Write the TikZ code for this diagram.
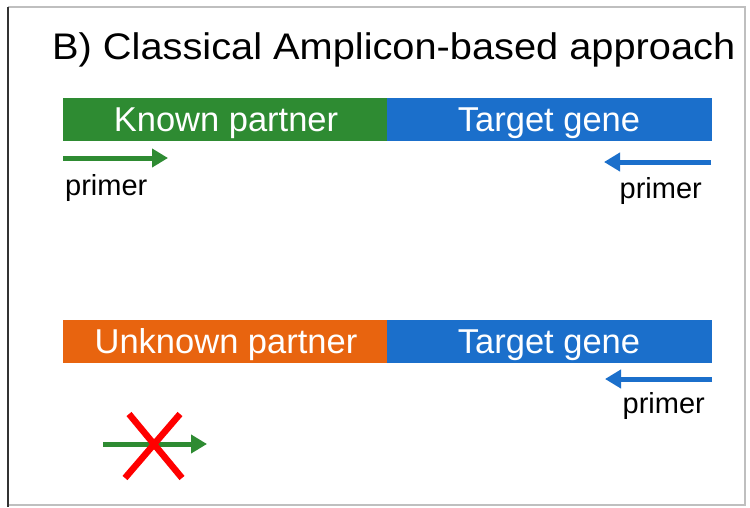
\documentclass[tikz,border=0pt]{standalone}
\usepackage{fontspec}
\setmainfont{Liberation Sans}
\usetikzlibrary{arrows.meta}
\definecolor{pgreen}{HTML}{2E8B32}
\definecolor{pblue}{HTML}{1B6FCB}
\definecolor{porange}{HTML}{E8640F}
\tikzset{
  seg/.style={draw=none, minimum height=43pt, inner sep=0pt},
  segtext/.style={text=white, inner sep=0pt, anchor=base, font=\fontsize{34.5}{34.5}\selectfont},
  prim/.style={line width=5pt, -{Triangle[length=16pt,width=18pt]}},
  lab/.style={font=\fontsize{29}{29}\selectfont, inner sep=0pt},
}
\begin{document}
\begin{tikzpicture}[x=1pt,y=-1pt]
\useasboundingbox (0,0) rectangle (750,507);
\fill[white] (0,0) rectangle (750,507);
\draw[gray!50, line width=1.2pt] (8,7) -- (745,7) -- (745,505) -- (8,505);
\draw[black!80, line width=1.5pt] (8,7) -- (8,507);
\node[anchor=base west, font=\fontsize{37}{37}\selectfont, inner sep=0pt] (title) at (52,59) {\scalebox{1.075}[1]{B) Classical Amplicon-based approach}};
% top bar
\node[seg, fill=pgreen, minimum width=324pt] (kp) at (225,119) {};
\node[seg, fill=pblue, minimum width=325pt, anchor=west] (tg1) at (kp.east) {};
\node[segtext] (kpt) at (226,131.5) {Known partner};
\node[segtext] (tg1t) at (549,131.5) {Target gene};
\coordinate (g1s) at (63,158); \coordinate (g1e) at (168,158);
\draw[prim, pgreen] (g1s) -- (g1e);
\node[lab, anchor=base west] (p1) at (65,195) {primer};
\coordinate (b1s) at (711,162); \coordinate (b1e) at (604,162);
\draw[prim, pblue] (b1s) -- (b1e);
\node[lab, anchor=base east] (p2) at (702,198) {primer};
% bottom bar
\node[seg, fill=porange, minimum width=324pt] (up) at (225,341) {};
\node[seg, fill=pblue, minimum width=325pt, anchor=west] (tg2) at (up.east) {};
\node[segtext] (upt) at (226,353.5) {Unknown partner};
\node[segtext] (tg2t) at (549,353.5) {Target gene};
\coordinate (b2s) at (712,379); \coordinate (b2e) at (605,379);
\draw[prim, pblue] (b2s) -- (b2e);
\node[lab, anchor=base east] (p3) at (705,413) {primer};
% crossed primer
\coordinate (g2s) at (103,444); \coordinate (g2e) at (207,444);
\draw[prim, pgreen] (g2s) -- (g2e);
\coordinate (xa) at (129,414); \coordinate (xb) at (182,478);
\coordinate (xc) at (180,414); \coordinate (xd) at (125,478);
\draw[red, line width=6.5pt] (xa) -- (xb);
\draw[red, line width=6.5pt] (xc) -- (xd);
\end{tikzpicture}
\end{document}
